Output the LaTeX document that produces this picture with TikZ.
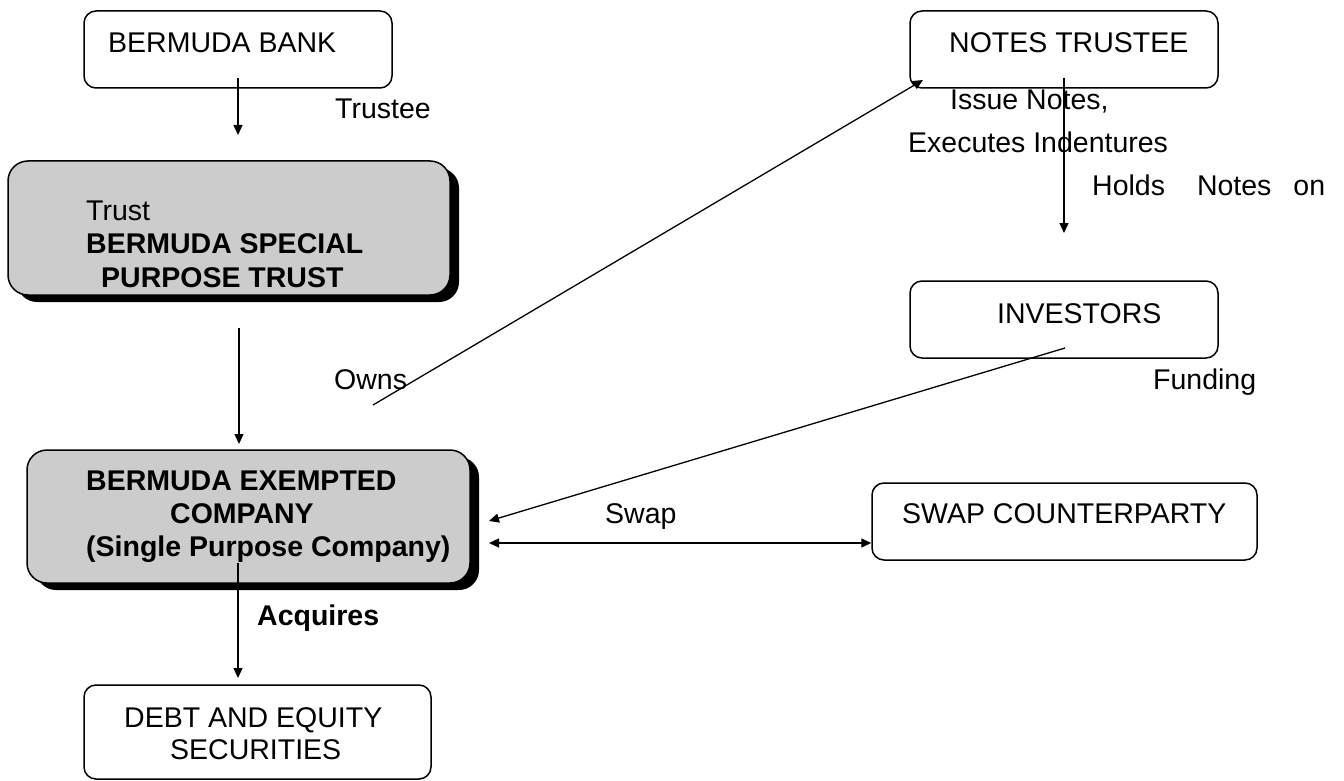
\documentclass[tikz,border=0pt]{standalone}
\usepackage{fontspec}
\setmainfont{Liberation Sans}
\usetikzlibrary{arrows.meta}
\definecolor{boxgray}{HTML}{CCCCCC}
\begin{document}
\begin{tikzpicture}[x=1pt,y=1pt,
  font=\fontsize{28.5pt}{33.5pt}\selectfont,
  wbox/.style={draw, line width=1.5pt, rounded corners=12pt, inner sep=0pt, fill=white},
  gbox/.style={draw, line width=1.5pt, rounded corners=20pt, inner sep=0pt, fill=boxgray},
  shad/.style={fill=black, draw=none, rounded corners=20pt, inner sep=0pt},
  lbl/.style={anchor=base west, inner sep=0pt},
  arr/.style={line width=1.3pt, -{Triangle[length=10pt,width=9pt]}},
  dblarr/.style={line width=1.3pt, {Triangle[length=10pt,width=9pt]}-{Triangle[length=10pt,width=9pt]}}
]
\useasboundingbox[fill=white] (0,0) rectangle (1344,-781);

% boxes
\node[wbox, minimum width=308pt, minimum height=77pt] (bank) at (238,-49.5) {};
\node[shad, minimum width=442pt, minimum height=134pt] (trustshadow) at (238,-235) {};
\node[gbox, minimum width=442pt, minimum height=134pt] (trust) at (229,-228) {};
\node[shad, minimum width=443pt, minimum height=133pt] (companyshadow) at (257.5,-523.5) {};
\node[gbox, minimum width=443pt, minimum height=133pt] (company) at (248.5,-516.5) {};
\node[wbox, minimum width=347pt, minimum height=94pt] (debt) at (257.5,-732) {};
\node[wbox, minimum width=308pt, minimum height=77pt] (notes) at (1064,-49.5) {};
\node[wbox, minimum width=308pt, minimum height=77pt] (investors) at (1064,-319.5) {};
\node[wbox, minimum width=385pt, minimum height=77pt] (swap) at (1064.5,-521.5) {};

% box texts
\node[lbl] (tbank) at (108,-53) {BERMUDA BANK};
\node[lbl] (ttrust1) at (86,-220) {Trust};
\node[lbl] (ttrust2) at (86,-253) {\bfseries BERMUDA SPECIAL};
\node[lbl] (ttrust3) at (101,-287) {\bfseries PURPOSE TRUST};
\node[lbl] (tcomp1) at (86,-490) {\bfseries BERMUDA EXEMPTED};
\node[lbl] (tcomp2) at (170,-523) {\bfseries COMPANY};
\node[lbl] (tcomp3) at (86,-556) {\bfseries (Single Purpose Company)};
\node[lbl] (tdebt1) at (124,-727) {DEBT AND EQUITY};
\node[lbl] (tdebt2) at (170,-759) {SECURITIES};
\node[lbl] (tnotes) at (949,-53) {NOTES TRUSTEE};
\node[lbl] (tinv) at (997,-323) {INVESTORS};
\node[lbl] (tswap) at (902,-523) {SWAP COUNTERPARTY};

% labels
\node[lbl] (ltrustee) at (335,-119) {Trustee};
\node[lbl] (lissue) at (950,-110) {Issue Notes,};
\node[lbl] (lexec) at (908,-153) {Executes Indentures};
\node[lbl] (lholds) at (1092,-195) {Holds\hspace{32pt}Notes\hspace{22pt}on};
\node[lbl] (lowns) at (334,-389) {Owns};
\node[lbl] (lfunding) at (1153,-389) {Funding};
\node[lbl] (lswap) at (605,-523) {Swap};
\node[lbl] (lacq) at (257,-625) {\bfseries Acquires};

% connector end points
\coordinate (bankA) at (238,-78);
\coordinate (bankB) at (238,-135);
\coordinate (trustA) at (239,-328);
\coordinate (trustB) at (239,-444);
\coordinate (compA) at (238,-563);
\coordinate (compB) at (238,-678);
\coordinate (ownsA) at (373,-405);
\coordinate (ownsB) at (923,-80);
\coordinate (notesA) at (1064,-78);
\coordinate (notesB) at (1064,-233);
\coordinate (invA) at (1065,-348);
\coordinate (invB) at (489,-521);
\coordinate (swapA) at (489,-543);
\coordinate (swapB) at (swap.west |- swapA);

% connectors
\draw[arr] (bankA) -- (bankB);
\draw[arr] (trustA) -- (trustB);
\draw[arr] (compA) -- (compB);
\draw[arr] (ownsA) -- (ownsB);
\draw[arr] (notesA) -- (notesB);
\draw[arr] (invA) -- (invB);
\draw[dblarr] (swapA) -- (swapB);
\end{tikzpicture}
\end{document}
